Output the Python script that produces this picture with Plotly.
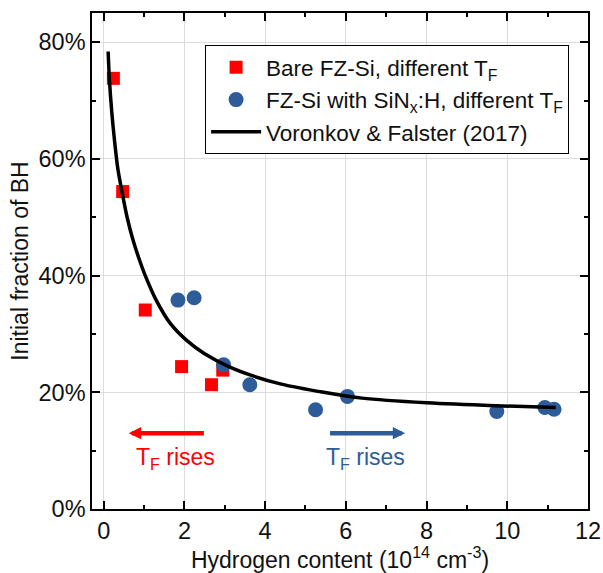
import plotly.graph_objects as go

# ---- data ----
bare_x = [0.24, 0.47, 1.03, 1.93, 2.95, 2.67]
bare_y = [73.8, 54.4, 34.1, 24.4, 23.8, 21.3]

sin_x = [1.84, 2.24, 2.97, 3.62, 5.25, 6.04, 9.74, 10.93, 11.16]
sin_y = [35.8, 36.2, 24.7, 21.3, 17.0, 19.3, 16.7, 17.4, 17.1]

model_x = [0.11, 0.14, 0.20, 0.27, 0.35, 0.45, 0.58, 0.73, 0.88, 1.03, 1.30,
           1.65, 2.07, 2.50, 3.10, 3.70, 4.40, 5.45, 6.40, 8.00, 9.70, 11.20]
model_y = [78.4, 73.8, 68.0, 63.0, 58.3, 54.5, 50.0, 46.0, 42.8, 40.0, 35.8,
           31.8, 28.8, 26.6, 24.4, 22.8, 21.4, 20.0, 19.0, 18.2, 17.7, 17.4]

names = ["Bare FZ-Si, different T<sub>F</sub>",
         "FZ-Si with SiN<sub>x</sub>:H, different T<sub>F</sub>",
         "Voronkov &amp; Falster (2017)"]

arrow_red = {"tail": (2.52, 13.0), "head": (0.62, 13.0), "text": (1.78, 8.6)}
arrow_blue = {"tail": (5.57, 13.0), "head": (7.47, 13.0), "text": (6.48, 8.6)}

RED = "#FF0000"
BLUE = "#2E5C99"
FONT = "Arial, Liberation Sans, sans-serif"

fig = go.Figure()
fig.add_trace(go.Scatter(x=bare_x, y=bare_y, mode="markers", name=names[0],
                         marker=dict(symbol="square", size=13, color=RED)))
fig.add_trace(go.Scatter(x=sin_x, y=sin_y, mode="markers", name=names[1],
                         marker=dict(symbol="circle", size=15, color=BLUE)))
fig.add_trace(go.Scatter(x=model_x, y=model_y, mode="lines", name=names[2],
                         line=dict(color="black", width=3.5, shape="spline", smoothing=0.8)))

for arr, col in ((arrow_red, RED), (arrow_blue, BLUE)):
    fig.add_annotation(x=arr["head"][0], y=arr["head"][1], ax=arr["tail"][0], ay=arr["tail"][1],
                       xref="x", yref="y", axref="x", ayref="y", text="", showarrow=True,
                       arrowhead=2, arrowsize=0.55, arrowwidth=4.5, arrowcolor=col)
    fig.add_annotation(x=arr["text"][0], y=arr["text"][1], xref="x", yref="y",
                       text="T<sub>F</sub> rises", showarrow=False,
                       font=dict(family=FONT, size=23, color=col))

axis_common = dict(
    showline=True, linecolor="black", linewidth=1.5, mirror="ticks",
    ticks="inside", ticklen=8, tickwidth=1.5, tickcolor="black",
    showgrid=True, gridcolor="#DCDCDC", gridwidth=1, zeroline=False,
    tickfont=dict(family=FONT, size=23.5, color="#111111"),
    automargin=False,
)

fig.update_xaxes(range=[-0.29, 12], tick0=0, dtick=2,
                 minor=dict(dtick=1, ticks="inside", ticklen=4, tickcolor="black", showgrid=False),
                 title=dict(text="Hydrogen content (10<sup>14</sup> cm<sup>-3</sup>)",
                            font=dict(family=FONT, size=23, color="#111111"), standoff=6),
                 **axis_common)
fig.update_yaxes(range=[0, 85], tick0=0, dtick=20, ticksuffix="%",
                 minor=dict(dtick=10, ticks="inside", ticklen=4, tickcolor="black", showgrid=False),
                 title=dict(text="Initial fraction of BH",
                            font=dict(family=FONT, size=23, color="#111111"), standoff=3),
                 **axis_common)

fig.update_layout(
    width=603, height=573,
    margin=dict(l=92, r=15, t=13, b=64),
    paper_bgcolor="white", plot_bgcolor="white",
    font=dict(family=FONT, size=23, color="#111111"),
    legend=dict(x=0.228, y=0.935, xanchor="left", yanchor="top",
                bordercolor="black", borderwidth=1, bgcolor="white",
                font=dict(family=FONT, size=22.5, color="#111111"),
                itemwidth=50, tracegroupgap=0),
)

fig.write_html("out.html")
